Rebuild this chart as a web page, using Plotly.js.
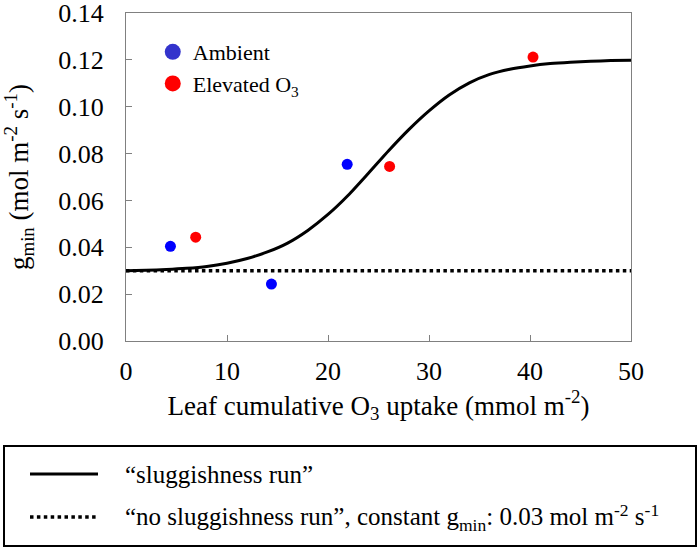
<!DOCTYPE html>
<html>
<head>
<meta charset="utf-8">
<script src="https://cdn.plot.ly/plotly-3.0.1.min.js"></script>
<style>
html,body{margin:0;padding:0;background:#fff;}
#wrap{position:relative;width:700px;height:551px;}
#chart{position:absolute;left:0;top:0;width:700px;height:551px;}
svg text{font-family:"Liberation Serif","Times New Roman",serif !important;}
#keybox{position:absolute;left:3px;top:445px;width:694px;height:102px;box-sizing:border-box;border:2px solid #000;}
.keytext{position:absolute;left:125px;font-family:"Liberation Serif","Times New Roman",serif;font-size:25px;line-height:25px;color:#000;white-space:nowrap;}
.keytext sub,.keytext sup{font-size:70%;line-height:0;}
#keysvg{position:absolute;left:0;top:0;}
</style>
</head>
<body>
<div id="wrap">
<div id="chart"></div>
<div id="keybox"></div>
<svg id="keysvg" width="700" height="551">
  <line x1="30" y1="474" x2="98" y2="474" stroke="#000" stroke-width="3"/>
  <line x1="30" y1="517" x2="98" y2="517" stroke="#000" stroke-width="3.5" stroke-dasharray="3.5 3.4"/>
</svg>
<div class="keytext" id="key1" style="top:462px;">“sluggishness run”</div>
<div class="keytext" id="key2" style="top:504px;">“no sluggishness run”, constant g<sub>min</sub>: 0.03 mol m<sup>-2</sup> s<sup>-1</sup></div>
</div>
<script>
// Measured data
const ambientX = [4.4, 14.4, 21.9];
const ambientY = [0.0404, 0.0243, 0.0754];
const elevatedX = [6.9, 26.1, 40.3];
const elevatedY = [0.0443, 0.0745, 0.1212];
// "sluggishness run" curve
const curveX = [0, 2, 4, 6, 8, 10, 12, 14, 16, 18, 20, 22, 24, 26, 28, 30, 32, 34, 36, 38, 40, 42, 44, 46, 48, 50];
const curveY = [0.0300, 0.0302, 0.0305, 0.0310, 0.0318, 0.0332, 0.0352, 0.0380, 0.0418, 0.0472, 0.0540, 0.0622, 0.0716, 0.0812, 0.0902, 0.0982, 0.1050, 0.1102, 0.1138, 0.1160, 0.1174, 0.1184, 0.1190, 0.1194, 0.1197, 0.1198];
// constant gmin run
const constX = [0, 50];
const constY = [0.03, 0.03];
const yTicks = [0, 0.02, 0.04, 0.06, 0.08, 0.10, 0.12, 0.14];
const yTickText = ['0.00', '0.02', '0.04', '0.06', '0.08', '0.10', '0.12', '0.14'];

const FONT = 'Liberation Serif';

const traces = [
  {x: constX, y: constY, mode: 'lines', name: 'no sluggishness run', showlegend: false,
   line: {color: '#000', width: 3.5, dash: '3.5px,3.4px'}},
  {x: curveX, y: curveY, mode: 'lines', name: 'sluggishness run', showlegend: false,
   line: {color: '#000', width: 3, shape: 'spline', smoothing: 0.6}},
  {x: ambientX, y: ambientY, mode: 'markers', name: 'Ambient', marker: {color: '#0000ff', size: 11}, showlegend: false},
  {x: elevatedX, y: elevatedY, mode: 'markers', name: 'Elevated O<sub>3</sub>', marker: {color: '#ff0000', size: 11}, showlegend: false},
  {x: [null], y: [null], mode: 'markers', name: 'Ambient', marker: {color: '#3333cc', size: 16}},
  {x: [null], y: [null], mode: 'markers', name: 'Elevated O<sub>3</sub>', marker: {color: '#ff0000', size: 16}}
];

const layout = {
  width: 700, height: 551,
  margin: {l: 126, r: 69, t: 12.5, b: 210},
  paper_bgcolor: 'rgba(0,0,0,0)', plot_bgcolor: 'rgba(0,0,0,0)',
  font: {family: FONT, color: '#000', size: 26},
  showlegend: true,
  xaxis: {
    range: [0, 50], tickmode: 'linear', tick0: 0, dtick: 10,
    ticks: 'inside', ticklen: 6, tickcolor: '#808080', tickwidth: 1,
    showline: true, linecolor: '#808080', linewidth: 1, mirror: true,
    showgrid: false, zeroline: false, ticklabelstandoff: 7,
    tickfont: {family: FONT, size: 26, color: '#000'},
    title: {text: 'Leaf cumulative O<sub>3</sub> uptake (mmol m<sup>-2</sup>)', font: {family: FONT, size: 27, color: '#000'}, standoff: 8}
  },
  yaxis: {
    range: [0, 0.14], tickmode: 'array', tickvals: yTicks, ticktext: yTickText, ticklabeloverflow: 'allow',
    ticks: 'inside', ticklen: 6, tickcolor: '#808080', tickwidth: 1,
    showline: true, linecolor: '#808080', linewidth: 1, mirror: true,
    showgrid: false, zeroline: false, ticklabelstandoff: 16,
    tickfont: {family: FONT, size: 26, color: '#000'},
    title: {text: 'g<sub>min</sub> (mol m<sup>-2</sup> s<sup>-1</sup>)', font: {family: FONT, size: 27, color: '#000'}, standoff: 24}
  },
  legend: {
    x: 0.053, y: 0.945, xanchor: 'left', yanchor: 'top',
    bgcolor: 'rgba(0,0,0,0)', borderwidth: 0,
    font: {family: FONT, size: 22, color: '#000'}
  }
};

Plotly.newPlot('chart', traces, layout, {displayModeBar: false, staticPlot: true});
</script>
</body>
</html>
